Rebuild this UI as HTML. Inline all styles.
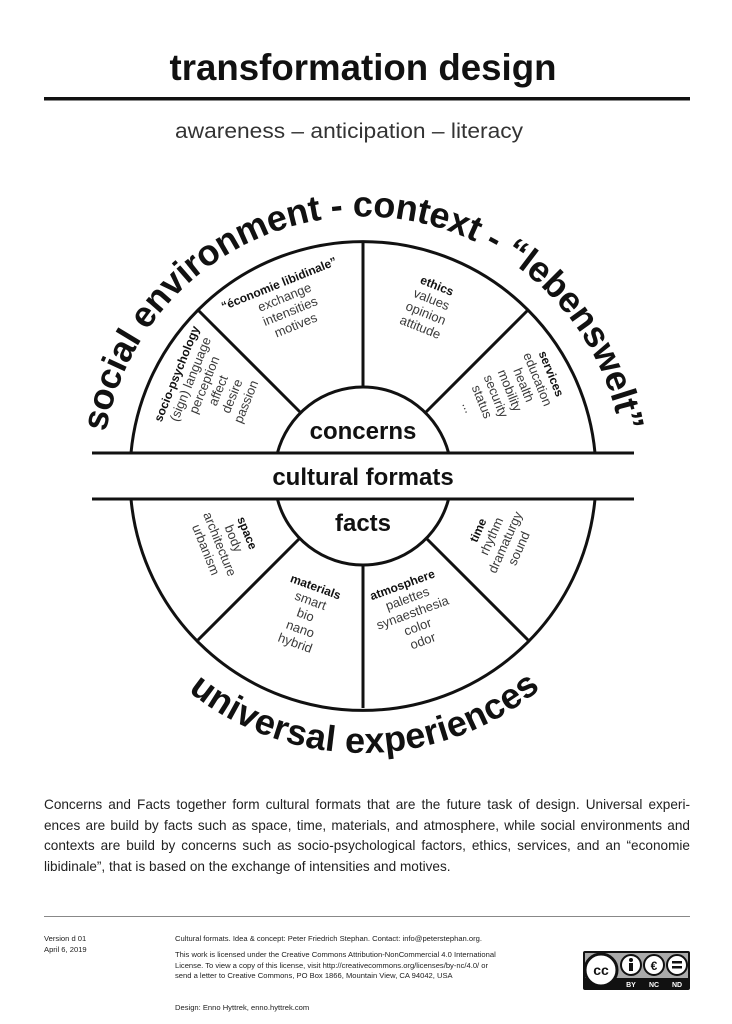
<!DOCTYPE html>
<html><head><meta charset="utf-8"><style>
body{margin:0;background:#fff;}
svg{display:block;font-family:"Liberation Sans","DejaVu Sans",sans-serif;}
.p{position:absolute;left:44px;top:795px;width:646px;font-family:"Liberation Sans",sans-serif;font-size:13.6px;color:#222;line-height:20.5px;}
.p div{text-align:justify;text-align-last:justify;white-space:nowrap;}
.p div.l{text-align-last:left;}
.f{position:absolute;font-family:"Liberation Sans",sans-serif;font-size:7.6px;color:#222;line-height:10.5px;}
</style></head><body>
<div style="position:relative;width:732px;height:1024px;overflow:hidden;">
<svg width="732" height="1024" viewBox="0 0 732 1024">
<text x="363" y="80" text-anchor="middle" font-size="37" font-weight="bold" fill="#111" textLength="387" lengthAdjust="spacingAndGlyphs">transformation design</text>
<rect x="44" y="97" width="646" height="3.5" fill="#111"/>
<text x="349" y="138" text-anchor="middle" font-size="21" fill="#333" textLength="348" lengthAdjust="spacingAndGlyphs">awareness – anticipation – literacy</text>

<g stroke="#111" stroke-width="3" fill="none">
<path d="M131 453 A233 233 0 0 1 595 453"/>
<path d="M277.4 453 A88.5 88.5 0 0 1 448.6 453"/>
<path d="M131 499 A233 233 0 0 0 595 499"/>
<path d="M277.4 499 A88.5 88.5 0 0 0 448.6 499"/>
<line x1="92" y1="453" x2="634" y2="453"/>
<line x1="92" y1="499" x2="634" y2="499"/>
<line x1="363" y1="387" x2="363" y2="242"/>
<line x1="300" y1="412" x2="198" y2="310"/>
<line x1="426" y1="412" x2="528" y2="310"/>
<line x1="363" y1="564" x2="363" y2="708"/>
<line x1="300" y1="538" x2="198" y2="640"/>
<line x1="426" y1="538" x2="528" y2="640"/>
</g>

<text x="363" y="439" text-anchor="middle" font-size="24" font-weight="bold" fill="#111">concerns</text>
<text x="363" y="485" text-anchor="middle" font-size="24" font-weight="bold" fill="#111">cultural formats</text>
<text x="363" y="531" text-anchor="middle" font-size="24" font-weight="bold" fill="#111">facts</text>

<defs>
<path id="top" d="M106 432 A261 261 0 0 1 620 432"/>
<path id="bot" d="M188 691 A278 278 0 0 0 538 691"/>
</defs>
<text font-size="36" font-weight="bold" fill="#111"><textPath href="#top" textLength="728" lengthAdjust="spacing">social environment - context - “lebenswelt”</textPath></text>
<text font-size="36" font-weight="bold" fill="#111"><textPath href="#bot" textLength="382" lengthAdjust="spacing">universal experiences</textPath></text>

<g font-size="13" fill="#3a3a3a" text-anchor="middle">
<g transform="translate(212,388) rotate(-68)"><text y="-34"><tspan x="0" font-weight="bold" fill="#111" font-size="12">socio-psychology</tspan><tspan x="0" dy="15">(sign) language</tspan><tspan x="0" dy="15">perception</tspan><tspan x="0" dy="15">affect</tspan><tspan x="0" dy="15">desire</tspan><tspan x="0" dy="15">passion</tspan></text></g>
<g transform="translate(288,306) rotate(-22)"><text y="-20"><tspan x="0" font-weight="bold" fill="#111" font-size="12">“économie libidinale”</tspan><tspan x="0" dy="15">exchange</tspan><tspan x="0" dy="15">intensities</tspan><tspan x="0" dy="15">motives</tspan></text></g>
<g transform="translate(428,308) rotate(22)"><text y="-20"><tspan x="0" font-weight="bold" fill="#111" font-size="12">ethics</tspan><tspan x="0" dy="15">values</tspan><tspan x="0" dy="15">opinion</tspan><tspan x="0" dy="15">attitude</tspan></text></g>
<g transform="translate(516,388) rotate(68)"><text y="-34"><tspan x="0" font-weight="bold" fill="#111" font-size="12">services</tspan><tspan x="0" dy="15">education</tspan><tspan x="0" dy="15">health</tspan><tspan x="0" dy="15">mobility</tspan><tspan x="0" dy="15">security</tspan><tspan x="0" dy="15">status</tspan><tspan x="0" dy="15">...</tspan></text></g>

<g transform="translate(225,542) rotate(68)"><text y="-20"><tspan x="0" font-weight="bold" fill="#111" font-size="12">space</tspan><tspan x="0" dy="15">body</tspan><tspan x="0" dy="15">architecture</tspan><tspan x="0" dy="15">urbanism</tspan></text></g>
<g transform="translate(305,616) rotate(20)"><text y="-27"><tspan x="0" font-weight="bold" fill="#111" font-size="12">materials</tspan><tspan x="0" dy="15">smart</tspan><tspan x="0" dy="15">bio</tspan><tspan x="0" dy="15">nano</tspan><tspan x="0" dy="15">hybrid</tspan></text></g>
<g transform="translate(413,614) rotate(-20)"><text y="-27"><tspan x="0" font-weight="bold" fill="#111" font-size="12">atmosphere</tspan><tspan x="0" dy="15">palettes</tspan><tspan x="0" dy="15">synaesthesia</tspan><tspan x="0" dy="15">color</tspan><tspan x="0" dy="15">odor</tspan></text></g>
<g transform="translate(500,540) rotate(-66)"><text y="-20"><tspan x="0" font-weight="bold" fill="#111" font-size="12">time</tspan><tspan x="0" dy="15">rhythm</tspan><tspan x="0" dy="15">dramaturgy</tspan><tspan x="0" dy="15">sound</tspan></text></g>
</g>

<rect x="44" y="916" width="646" height="1" fill="#888"/>
<g transform="translate(583,951)">
<rect x="0" y="0" width="107" height="39" rx="2" fill="#111"/>
<rect x="2" y="2" width="103" height="25" fill="#aaa"/>
<circle cx="18" cy="19" r="16" fill="#fff" stroke="#111" stroke-width="3"/>
<text x="18" y="24" text-anchor="middle" font-size="14" font-weight="bold" fill="#111">cc</text>
<circle cx="48" cy="14" r="10" fill="#fff" stroke="#111" stroke-width="2"/>
<circle cx="48" cy="9" r="2" fill="#111"/><rect x="46" y="12" width="4" height="8" fill="#111"/>
<circle cx="71" cy="14" r="10" fill="#fff" stroke="#111" stroke-width="2"/>
<text x="71" y="19" text-anchor="middle" font-size="12" font-weight="bold" fill="#111">€</text>
<circle cx="94" cy="14" r="10" fill="#fff" stroke="#111" stroke-width="2"/>
<rect x="89" y="10" width="10" height="2.5" fill="#111"/><rect x="89" y="15" width="10" height="2.5" fill="#111"/>
<text x="48" y="36" text-anchor="middle" font-size="7" font-weight="bold" fill="#fff">BY</text>
<text x="71" y="36" text-anchor="middle" font-size="7" font-weight="bold" fill="#fff">NC</text>
<text x="94" y="36" text-anchor="middle" font-size="7" font-weight="bold" fill="#fff">ND</text>
</g>
</svg>
<div class="p">
<div>Concerns and Facts together form cultural formats that are the future task of design. Universal experi-</div>
<div>ences are build by facts such as space, time, materials, and atmosphere, while social environments and</div>
<div>contexts are build by concerns such as socio-psychological factors, ethics, services, and an “economie</div>
<div class="l">libidinale”, that is based on the exchange of intensities and motives.</div>
</div>
<div class="f" style="left:44px;top:934px;">Version d 01<br>April 6, 2019</div>
<div class="f" style="left:175px;top:934px;">Cultural formats. Idea &amp; concept: Peter Friedrich Stephan. Contact: info@peterstephan.org.</div>
<div class="f" style="left:175px;top:950px;width:400px;">This work is licensed under the Creative Commons Attribution-NonCommercial 4.0 International<br>License. To view a copy of this license, visit http://creativecommons.org/licenses/by-nc/4.0/ or<br>send a letter to Creative Commons, PO Box 1866, Mountain View, CA 94042, USA</div>
<div class="f" style="left:175px;top:1003px;">Design: Enno Hyttrek, enno.hyttrek.com</div>
</div>
</body></html>
